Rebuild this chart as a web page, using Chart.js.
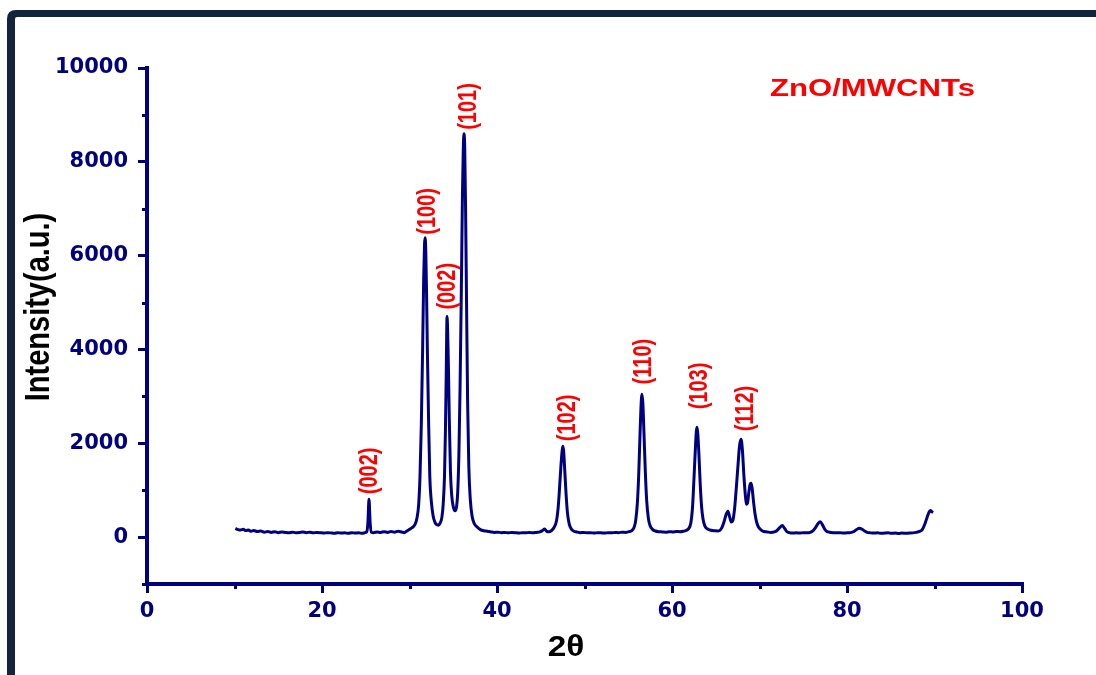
<!DOCTYPE html>
<html><head><meta charset="utf-8">
<script src="https://cdn.jsdelivr.net/npm/chart.js@4.4.1/dist/chart.umd.min.js"></script>
<style>
html,body{margin:0;padding:0;background:#fff;width:1096px;height:675px;overflow:hidden;}
canvas{position:absolute;left:0;top:0;}
</style></head><body>
<canvas id="c" width="1096" height="675"></canvas>
<script>
// ---- data ----
const twoTheta = [
10.1,10.4,10.7,11.0,11.3,11.6,11.9,12.2,12.6,13.0,13.4,13.8,14.2,14.6,15.0,15.4,15.8,16.2,16.6,17.0,
17.4,17.8,18.2,18.6,19.0,19.4,19.8,20.2,20.6,21.0,21.4,21.8,22.2,22.6,23.0,23.4,23.8,24.2,24.6,24.9,
25.1,25.25,25.37,25.5,25.65,25.9,26.3,26.7,27.1,27.5,27.9,28.3,28.7,29.1,29.4,29.7,30.0,30.3,30.6,30.85,
31.05,31.2,31.35,31.5,31.62,31.72,31.78,31.86,31.95,32.05,32.18,32.32,32.5,32.7,32.9,33.1,33.3,33.5,33.7,33.85,
34.0,34.1,34.2,34.29,34.36,34.45,34.55,34.68,34.82,35.0,35.2,35.38,35.52,35.65,35.78,35.92,36.05,36.15,36.23,36.31,
36.41,36.52,36.64,36.78,36.95,37.15,37.4,37.7,38.1,38.5,38.9,39.3,39.7,40.1,40.5,40.9,41.3,41.7,42.1,42.5,
42.9,43.3,43.7,44.1,44.5,44.9,45.2,45.45,45.7,45.95,46.2,46.5,46.8,47.0,47.15,47.3,47.45,47.54,47.62,47.75,
47.9,48.05,48.25,48.5,48.8,49.1,49.5,49.9,50.3,50.7,51.1,51.5,51.9,52.3,52.7,53.1,53.5,53.9,54.3,54.7,
55.1,55.4,55.65,55.85,56.05,56.2,56.33,56.45,56.57,56.67,56.8,56.95,57.1,57.3,57.5,57.8,58.1,58.5,58.9,59.3,
59.7,60.1,60.5,60.9,61.3,61.6,61.9,62.15,62.35,62.5,62.65,62.78,62.86,62.95,63.08,63.22,63.38,63.55,63.75,64.0,
64.3,64.6,64.9,65.2,65.45,65.7,65.95,66.2,66.4,66.6,66.8,66.95,67.15,67.35,67.55,67.72,67.89,68.05,68.22,68.38,
68.5,68.62,68.78,68.92,69.03,69.15,69.32,69.5,69.7,69.9,70.2,70.5,70.9,71.3,71.7,72.0,72.3,72.6,72.85,73.1,
73.4,73.8,74.2,74.6,75.0,75.4,75.8,76.1,76.4,76.7,76.95,77.2,77.45,77.7,78.0,78.4,78.8,79.2,79.6,80.0,
80.4,80.8,81.1,81.4,81.7,82.0,82.3,82.7,83.1,83.5,83.9,84.3,84.7,85.1,85.5,85.9,86.3,86.7,87.1,87.5,
87.9,88.3,88.6,88.9,89.15,89.4,89.55,89.7,89.85];
const intensity = [
185,160,150,165,140,150,125,140,120,130,105,120,100,115,95,110,100,90,105,95,
100,110,95,105,90,100,95,85,95,90,80,95,85,90,80,95,85,90,80,95,
110,320,808,310,105,95,110,100,115,100,120,105,125,110,95,130,165,200,260,400,
700,1300,2400,4000,5500,6250,6383,6100,5200,3900,2500,1300,750,450,320,265,255,300,420,700,
1300,2200,3500,4702,4400,3600,2500,1400,900,650,560,650,1000,1800,3200,5200,7300,8300,8596,8300,
7000,5000,2900,1500,800,450,290,220,160,135,125,110,100,105,95,100,90,100,95,85,
95,90,100,90,100,110,140,170,120,115,135,200,350,650,1050,1500,1850,1936,1820,1400,
900,520,280,170,125,110,95,100,90,95,85,95,90,85,95,90,100,95,105,100,
115,140,200,350,750,1350,2100,2750,3043,2850,2200,1400,800,400,240,160,130,115,110,105,
115,110,120,115,125,140,180,300,650,1200,1800,2250,2340,2200,1750,1150,650,380,240,180,
155,140,135,130,140,200,330,490,553,420,320,350,600,1050,1550,1950,2085,1850,1300,900,
700,720,950,1120,1149,1050,750,480,300,210,150,120,110,100,110,140,200,245,190,120,
95,85,90,85,95,90,100,130,200,290,325,260,170,120,105,95,90,95,85,90,
95,120,160,190,170,130,100,90,85,90,80,85,90,80,85,75,85,80,85,90,
100,120,160,280,420,540,565,540,525];

const xMajorTicks = [0, 20, 40, 60, 80, 100];
const xMinorTicks = [10, 30, 50, 70, 90];
const yMajorTicks = [0, 2000, 4000, 6000, 8000, 10000];
const yMinorTicks = [-1000, 1000, 3000, 5000, 7000, 9000];

const peakLabels = ['(002)', '(100)', '(002)', '(101)', '(102)', '(110)', '(103)', '(112)'];
const peakLabelX = [25.43, 32.11, 34.4, 36.74, 48.06, 56.8, 63.14, 68.4];
const peakLabelY = [915, 6447, 4850, 8681, 2043, 3255, 2723, 2255];

const sampleName = 'ZnO/MWCNTs';
const xTitle = '2θ';
const yTitle = 'Intensity(a.u.)';

// ---- chart ----
const NAVY = '#000080';
const points = twoTheta.map((x, i) => ({ x: x, y: intensity[i] }));

const frame = {
  id: 'frame',
  beforeDraw(chart) {
    const ctx = chart.ctx;
    ctx.save();
    ctx.fillStyle = '#ffffff';
    ctx.fillRect(0, 0, chart.width, chart.height);
    ctx.fillStyle = '#12253d';
    // left bar and top bar drawn as filled shapes, rounded outer corner
    ctx.beginPath();
    ctx.moveTo(7, 675);
    ctx.lineTo(7, 19);
    ctx.quadraticCurveTo(7, 10, 16, 10);
    ctx.lineTo(1096, 10);
    ctx.lineTo(1096, 17);
    ctx.lineTo(17, 17);
    ctx.quadraticCurveTo(15, 17, 15, 19);
    ctx.lineTo(15, 675);
    ctx.closePath();
    ctx.fill();
    ctx.restore();
  }
};

const overlay = {
  id: 'overlay',
  afterDraw(chart) {
    const { ctx, scales: { x, y }, chartArea: a } = chart;
    ctx.save();
    // minor ticks
    ctx.strokeStyle = NAVY; ctx.lineWidth = 3;
    yMinorTicks.forEach(v => {
      const py = Math.round(y.getPixelForValue(v)) + 0.5;
      ctx.beginPath(); ctx.moveTo(a.left - 5, py); ctx.lineTo(a.left, py); ctx.stroke();
    });
    xMinorTicks.forEach(v => {
      const px = Math.round(x.getPixelForValue(v)) + 0.5;
      ctx.beginPath(); ctx.moveTo(px, a.bottom); ctx.lineTo(px, a.bottom + 5); ctx.stroke();
    });
    // peak labels
    ctx.fillStyle = '#ff0000';
    ctx.font = 'bold 20px "Liberation Sans", Arial, sans-serif';
    ctx.textAlign = 'left'; ctx.textBaseline = 'middle';
    peakLabels.forEach((t, i) => {
      ctx.save();
      ctx.translate(x.getPixelForValue(peakLabelX[i]), y.getPixelForValue(peakLabelY[i]));
      ctx.rotate(-Math.PI / 2);
      ctx.scale(1, 1.32);
      ctx.fillText(t, 0, 0);
      ctx.restore();
    });
    // sample name
    ctx.save();
    ctx.font = 'bold 24px "Liberation Sans", Arial, sans-serif';
    ctx.textAlign = 'left'; ctx.textBaseline = 'middle';
    const w1 = ctx.measureText(sampleName).width;
    ctx.translate(770, 89);
    ctx.scale(205 / w1, 1);
    ctx.fillText(sampleName, 0, 0);
    ctx.restore();
    // x title
    ctx.save();
    ctx.fillStyle = '#000';
    ctx.font = 'bold 29px "Liberation Sans", Arial, sans-serif';
    ctx.textAlign = 'center'; ctx.textBaseline = 'middle';
    ctx.translate(566, 648);
    ctx.scale(1.15, 1);
    ctx.fillText(xTitle, 0, 0);
    ctx.restore();
    // y title
    ctx.save();
    ctx.fillStyle = '#000';
    ctx.font = 'bold 29px "Liberation Sans", Arial, sans-serif';
    ctx.textAlign = 'center'; ctx.textBaseline = 'middle';
    ctx.translate(39, 307);
    ctx.rotate(-Math.PI / 2);
    ctx.scale(1, 1.22);
    ctx.fillText(yTitle, 0, 0);
    ctx.restore();
    ctx.restore();
  }
};

const tickFont = { family: '"DejaVu Sans", sans-serif', weight: 'bold', size: 21 };
const plainNumber = v => String(v);

new Chart(document.getElementById('c'), {
  type: 'line',
  data: { datasets: [{
    data: points, borderColor: NAVY, borderWidth: 3, pointRadius: 0,
    cubicInterpolationMode: 'monotone', fill: false
  }] },
  options: {
    responsive: false, animation: false,
    layout: { padding: { left: 10, right: 74, top: 68, bottom: 0 } },
    plugins: { legend: { display: false }, tooltip: { enabled: false } },
    scales: {
      x: {
        type: 'linear', min: 0, max: 100,
        afterBuildTicks: s => { s.ticks = xMajorTicks.map(v => ({ value: v })); },
        afterFit: s => { s.height = 91; },
        ticks: { font: tickFont, color: NAVY, padding: 6, maxRotation: 0, autoSkip: false, callback: plainNumber },
        grid: { display: true, drawOnChartArea: false, drawTicks: true, tickLength: 9, lineWidth: 3, tickWidth: 3, tickColor: NAVY, color: NAVY },
        border: { display: true, color: NAVY, width: 4 }
      },
      y: {
        type: 'linear', min: -1000, max: 10000,
        afterBuildTicks: s => { s.ticks = yMajorTicks.map(v => ({ value: v })); },
        afterFit: s => { s.width = 137; },
        ticks: { font: tickFont, color: NAVY, padding: 10, autoSkip: false, callback: plainNumber },
        grid: { display: true, drawOnChartArea: false, drawTicks: true, tickLength: 9, lineWidth: 3, tickWidth: 3, tickColor: NAVY, color: NAVY },
        border: { display: true, color: NAVY, width: 4 }
      }
    }
  },
  plugins: [frame, overlay]
});
</script></body></html>
